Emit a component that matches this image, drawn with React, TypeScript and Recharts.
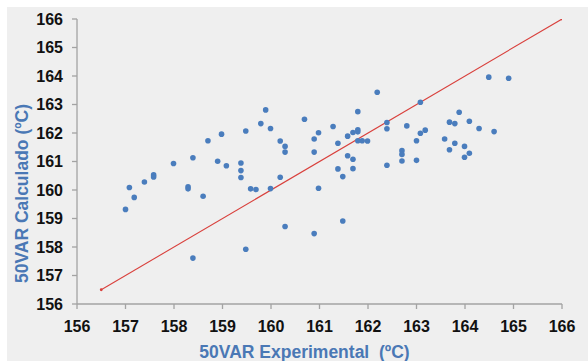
import React from "react";
import { ScatterChart, Scatter, XAxis, YAxis } from "recharts";

// Experimental vs. calculated 50VAR temperatures (ºC)
const xExperimental = [
  157.0, 157.08, 157.18, 157.39, 157.58, 157.58, 157.99, 158.29, 158.29, 158.39, 158.39, 158.6, 158.7, 158.9,
  158.98, 159.08, 159.38, 159.38, 159.38, 159.48, 159.48, 159.58, 159.69, 159.79, 159.89, 159.99, 159.99, 160.19,
  160.19, 160.29, 160.29, 160.29,
  160.69, 160.89, 160.89, 160.89, 160.98, 160.98, 161.28, 161.38, 161.38, 161.48, 161.48, 161.58, 161.58, 161.69,
  161.69, 161.69, 161.79, 161.79, 161.79, 161.79, 161.88, 161.99, 162.19, 162.39, 162.39, 162.39, 162.7, 162.7,
  162.7, 162.8, 163.0, 163.0, 163.08, 163.08, 163.18,
  163.58, 163.68, 163.68, 163.79, 163.79, 163.88, 163.99, 163.99, 164.09, 164.09, 164.29, 164.49, 164.6, 164.9,
];

const yCalculado = [
  159.32, 160.09, 159.74, 160.28, 160.53, 160.46, 160.93, 160.11, 160.04, 161.13, 157.61, 159.78, 161.73, 161.01,
  161.96, 160.85, 160.95, 160.68, 160.44, 162.07, 157.92, 160.04, 160.02, 162.33, 162.81, 162.16, 160.05, 161.72,
  160.45, 161.53, 161.33, 158.72,
  162.48, 161.79, 161.33, 158.47, 162.01, 160.06, 162.23, 161.64, 160.74, 160.47, 158.91, 161.89, 161.2, 162.02,
  161.08, 160.75, 162.75, 162.11, 162.04, 161.73, 161.73, 161.72, 163.43, 162.37, 162.15, 160.87, 161.38, 161.25,
  161.02, 162.25, 161.73, 161.04, 163.08, 161.99, 162.1,
  161.79, 162.38, 161.41, 162.33, 161.64, 162.73, 161.53, 161.15, 162.41, 161.29, 162.16, 163.96, 162.05, 163.92,
];

// y = x reference line end points
const identityX = [156.5, 166];
const identityY = [156.5, 166];

const axisTicks = [156, 157, 158, 159, 160, 161, 162, 163, 164, 165, 166];

const points = xExperimental.map((x, i) => ({ x, y: yCalculado[i] }));
const identity = identityX.map((x, i) => ({ x, y: identityY[i] }));

const FONT = "'Liberation Sans', Arial, sans-serif";
const TITLE_BLUE = "#4a78b5";
const AXIS_GRAY = "#a3a3a3";

const tickStyle = { fill: "#111", fontSize: 16, fontWeight: 700, fontFamily: FONT };

const Dot = (p: any) => <circle cx={p.cx} cy={p.cy} r={2.8} fill="#4a7dbd" />;
const EndDot = (p: any) => <circle cx={p.cx} cy={p.cy} r={1.4} fill="#d9403c" />;

const YTitle = (props: any) => {
  const vb = props.viewBox;
  const cx = vb.x + 22;
  const cy = vb.y + vb.height / 2 + 32;
  return (
    <text
      x={cx}
      y={cy}
      transform={`rotate(-90, ${cx}, ${cy})`}
      textAnchor="middle"
      dominantBaseline="central"
      fill={TITLE_BLUE}
      fontSize={17.5}
      fontWeight={700}
      fontFamily={FONT}
    >
      50VAR Calculado (ºC)
    </text>
  );
};

const XTitle = (props: any) => {
  const vb = props.viewBox;
  return (
    <text
      x={vb.x + vb.width / 2 - 15}
      y={vb.y + 53.5}
      textAnchor="middle"
      fill={TITLE_BLUE}
      fontSize={17.5}
      fontWeight={700}
      fontFamily={FONT}
      style={{ whiteSpace: "pre" }}
    >
      {"50VAR Experimental  (ºC)"}
    </text>
  );
};

export default function App() {
  return (
    <div style={{ position: "absolute", left: 0, top: 0, width: 588, height: 361, background: "#ffffff" }}>
      <div style={{ position: "absolute", left: 7, top: 7, width: 581, height: 354, background: "#efefef" }} />
      <div style={{ position: "absolute", left: 0, top: 0 }}>
        <ScatterChart width={588} height={361} margin={{ top: 19, right: 26, bottom: 0, left: 0 }}>
          <XAxis
            type="number"
            dataKey="x"
            domain={[156, 166]}
            ticks={axisTicks}
            interval={0}
            height={57}
            tick={tickStyle}
            tickSize={5}
            tickMargin={12}
            axisLine={{ stroke: AXIS_GRAY, strokeWidth: 1.3 }}
            tickLine={{ stroke: AXIS_GRAY, strokeWidth: 1.3 }}
            allowDataOverflow
            label={<XTitle />}
          />
          <YAxis
            type="number"
            dataKey="y"
            domain={[156, 166]}
            ticks={axisTicks}
            interval={0}
            width={77}
            tick={tickStyle}
            tickSize={5}
            tickMargin={9}
            axisLine={{ stroke: AXIS_GRAY, strokeWidth: 1.3 }}
            tickLine={{ stroke: AXIS_GRAY, strokeWidth: 1.3 }}
            allowDataOverflow
            label={<YTitle />}
          />
          <Scatter
            data={identity}
            line={{ stroke: "#d9403c", strokeWidth: 1.1 }}
            lineType="joint"
            shape={EndDot}
            isAnimationActive={false}
          />
          <Scatter data={points} shape={Dot} isAnimationActive={false} />
        </ScatterChart>
      </div>
    </div>
  );
}
